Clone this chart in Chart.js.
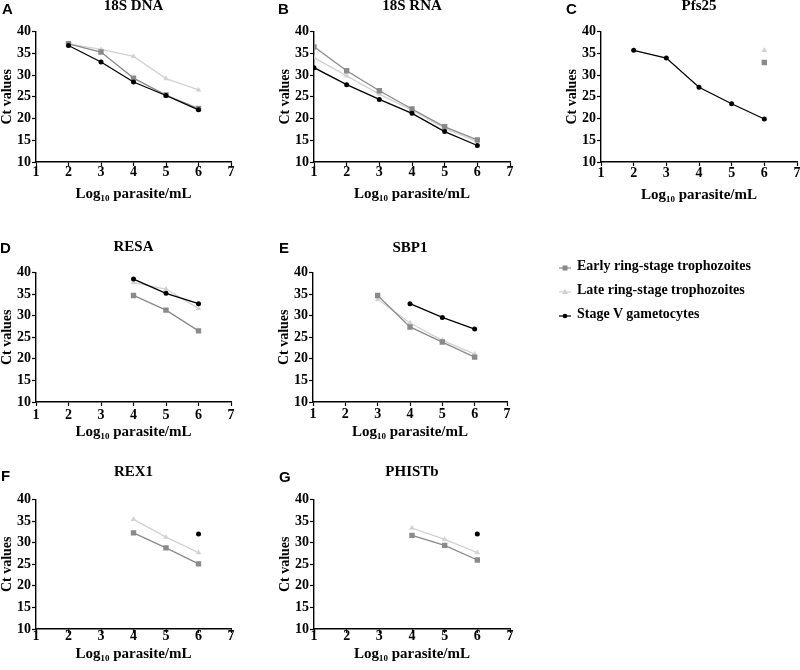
<!DOCTYPE html>
<html>
<head>
<meta charset="utf-8">
<script src="https://cdn.jsdelivr.net/npm/chart.js@4.4.1/dist/chart.umd.min.js"></script>
<style>
body { margin: 0; background: #fff; overflow: hidden; }
#fig { position: relative; width: 800px; height: 670px; }
#fig canvas { position: absolute; }
.tag { position: absolute; font: bold 15px "Liberation Sans", Arial, sans-serif; line-height: 15px; color: #000; }
.legrow { position: absolute; left: 556px; height: 20px; line-height: 20px; font: bold 14px "Liberation Serif", serif; color: #000; white-space: nowrap; }
.legrow svg { vertical-align: top; margin-right: 3px; }
</style>
</head>
<body>
<div id="fig"></div>
<script>
const xValues = [1, 2, 3, 4, 5, 6];
const seriesNames = ['Early ring-stage trophozoites', 'Late ring-stage trophozoites', 'Stage V gametocytes'];

// A - 18S DNA
const dnaEarly = [null, 37.2, 35.3, 29.3, 25.4, 22.3];
const dnaLate  = [null, 37.2, 35.9, 34.3, 29.2, 26.6];
const dnaGam   = [null, 36.8, 33.0, 28.4, 25.3, 22.0];
// B - 18S RNA
const rnaEarly = [36.5, 31.0, 26.4, 22.2, 18.1, 15.1];
const rnaLate  = [34.0, 29.8, 25.6, 21.9, 17.7, 14.7];
const rnaGam   = [31.7, 27.8, 24.4, 21.2, 17.0, 13.8];
// C - Pfs25
const pfsEarly = [null, null, null, null, null, 32.9];
const pfsLate  = [null, null, null, null, null, 35.7];
const pfsGam   = [null, 35.7, 33.9, 27.2, 23.4, 19.9];
// D - RESA
const resaEarly = [null, null, null, 34.7, 31.3, 26.5];
const resaLate  = [null, null, null, 37.7, 36.2, 31.7];
const resaGam   = [null, null, null, 38.5, 35.2, 32.8];
// E - SBP1
const sbpEarly = [null, null, 34.7, 27.4, 23.9, 20.4];
const sbpLate  = [null, null, 33.8, 28.3, 24.3, 21.1];
const sbpGam   = [null, null, null, 32.8, 29.6, 26.9];
// F - REX1
const rexEarly = [null, null, null, 32.3, 28.8, 25.1];
const rexLate  = [null, null, null, 35.4, 31.3, 27.7];
const rexGam   = [null, null, null, null, null, 32.0];
// G - PHISTb
const phiEarly = [null, null, null, 31.7, 29.4, 26.0];
const phiLate  = [null, null, null, 33.4, 30.8, 27.7];
const phiGam   = [null, null, null, null, null, 32.0];

const serif = '"Liberation Serif", "Times New Roman", serif';
const styles = [
    { color: '#8a8a8a', pointStyle: 'rect', radius: 3.8 },
    { color: '#d2d2d2', pointStyle: 'triangle', radius: 3.2 },
    { color: '#000000', pointStyle: 'circle', radius: 2.5 },
];

const panels = [
    { tag: 'A', title: '18S DNA', data: [dnaEarly, dnaLate, dnaGam], left: 36, right: 231, top: 32, bottom: 163, titleGap: 25, tickOff: 10, labelOff: 32, tagX: 2, tagY: 1 },
    { tag: 'B', title: '18S RNA', data: [rnaEarly, rnaLate, rnaGam], left: 314, right: 510, top: 32, bottom: 163, titleGap: 25, tickOff: 10, labelOff: 32, tagX: 278, tagY: 1 },
    { tag: 'C', title: 'Pfs25', data: [pfsEarly, pfsLate, pfsGam], left: 601, right: 797, top: 32, bottom: 163, titleGap: 25, tickOff: 11, labelOff: 33, tagX: 566, tagY: 1 },
    { tag: 'D', title: 'RESA', data: [resaEarly, resaLate, resaGam], left: 36, right: 231, top: 273, bottom: 403, titleGap: 25, tickOff: 13, labelOff: 30, tagX: 0, tagY: 240 },
    { tag: 'E', title: 'SBP1', data: [sbpEarly, sbpLate, sbpGam], left: 313, right: 507, top: 273, bottom: 403, titleGap: 24, tickOff: 12, labelOff: 30, tagX: 279, tagY: 240 },
    { tag: 'F', title: 'REX1', data: [rexEarly, rexLate, rexGam], left: 36, right: 231, top: 500, bottom: 630, titleGap: 27, tickOff: 7, labelOff: 25, tagX: 1, tagY: 468 },
    { tag: 'G', title: 'PHISTb', data: [phiEarly, phiLate, phiGam], left: 314, right: 510, top: 500, bottom: 630, titleGap: 27, tickOff: 7, labelOff: 25, tagX: 279, tagY: 469 },
];

const fig = document.getElementById('fig');

function makePanel(p) {
    const yW = 38, padR = 6;
    const T = p.titleGap + 9.6;
    const H = p.labelOff + 9;
    const cv = document.createElement('canvas');
    cv.width = yW + (p.right - p.left) + padR;
    cv.height = T + (p.bottom - p.top) + H;
    cv.style.left = (p.left - yW) + 'px';
    cv.style.top = (p.top - T) + 'px';
    fig.appendChild(cv);

    const tag = document.createElement('div');
    tag.className = 'tag';
    tag.textContent = p.tag;
    tag.style.left = p.tagX + 'px';
    tag.style.top = p.tagY + 'px';
    fig.appendChild(tag);

    // stage V first so it is drawn on top
    const order = [2, 0, 1];
    const datasets = order.map(i => ({
        label: seriesNames[i],
        data: xValues.map((x, j) => ({ x: x, y: p.data[i][j] })),
        borderColor: styles[i].color,
        backgroundColor: styles[i].color,
        borderWidth: 1.3,
        pointStyle: styles[i].pointStyle,
        pointRadius: styles[i].radius,
        pointBorderWidth: 0,
        spanGaps: false,
    }));

    const tickFont = { family: serif, size: 14, weight: 'bold' };
    new Chart(cv, {
        type: 'line',
        data: { datasets },
        options: {
            responsive: false,
            animation: false,
            layout: { padding: { top: 0, left: 0, bottom: 0, right: padR } },
            plugins: {
                legend: { display: false },
                tooltip: { enabled: false },
                title: {
                    display: true,
                    text: p.title,
                    fullSize: false,
                    color: '#000',
                    font: { family: serif, size: 15, weight: 'bold' },
                    padding: { top: 0.6, bottom: T - 18.6 },
                },
            },
            scales: {
                x: {
                    type: 'linear',
                    min: 1,
                    max: 7,
                    ticks: { stepSize: 1, color: '#000', font: tickFont, padding: p.tickOff - 12.4, maxRotation: 0 },
                    grid: { drawOnChartArea: false, drawTicks: true, tickLength: 4, color: '#000', tickWidth: 1.2 },
                    border: { color: '#000', width: 1.4 },
                    title: { display: true, text: 'Log\u2081\u2080 parasite/mL', color: '#000', font: { family: serif, size: 15, weight: 'bold' }, padding: 0 },
                    afterFit: s => { s.height = H; },
                },
                y: {
                    min: 10,
                    max: 40,
                    ticks: { stepSize: 5, color: '#000', font: tickFont, padding: 1 },
                    grid: { drawOnChartArea: false, drawTicks: true, tickLength: 4, color: '#000', tickWidth: 1.2 },
                    border: { color: '#000', width: 1.4 },
                    title: { display: true, text: 'Ct values', color: '#000', font: { family: serif, size: 14, weight: 'bold' }, padding: { top: 0.6, bottom: 0 } },
                    afterFit: s => { s.width = yW; },
                },
            },
        },
    });
}

panels.forEach(makePanel);

// legend
const legendTops = [258, 282, 306];
seriesNames.forEach((name, i) => {
    const row = document.createElement('div');
    row.className = 'legrow';
    row.style.top = legendTops[i] + 'px';
    const c = styles[i].color;
    let mark;
    if (styles[i].pointStyle === 'rect') mark = `<rect x="6.5" y="7.5" width="5" height="5" fill="${c}"/>`;
    else if (styles[i].pointStyle === 'triangle') mark = `<polygon points="9,6.5 12,12 6,12" fill="${c}"/>`;
    else mark = `<circle cx="9" cy="10" r="2.3" fill="${c}"/>`;
    row.innerHTML = `<svg width="18" height="20"><line x1="3" y1="10" x2="15" y2="10" stroke="${c}" stroke-width="1.2"/>${mark}</svg>${name}`;
    fig.appendChild(row);
});
</script>
</body>
</html>
